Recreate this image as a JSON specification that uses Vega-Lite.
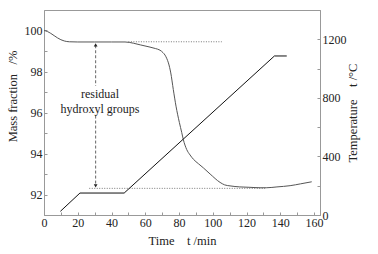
{
  "$schema": "https://vega.github.io/schema/vega-lite/v6.json",
  "width": 276,
  "height": 205,
  "autosize": {"type": "none"},
  "padding": {"left": 44, "top": 10, "right": 58, "bottom": 39},
  "background": "white",
  "config": {
    "view": {"stroke": "#999", "strokeWidth": 1},
    "font": "Liberation Serif",
    "axis": {
      "grid": false,
      "domainColor": "#999",
      "tickColor": "#999",
      "tickSize": -3,
      "labelFont": "Liberation Serif",
      "labelFontSize": 12,
      "labelColor": "#222",
      "labelPadding": 5,
      "labelFlush": false,
      "titleFont": "Liberation Serif",
      "titleFontSize": 12.5,
      "titleFontWeight": "normal",
      "titleColor": "#222"
    }
  },
  "datasets": {
    "mass": [
      {"t": 0, "m": 100.0}, {"t": 2, "m": 99.95}, {"t": 4, "m": 99.86}, {"t": 6, "m": 99.75},
      {"t": 8, "m": 99.64}, {"t": 10, "m": 99.55}, {"t": 12, "m": 99.49}, {"t": 15, "m": 99.45},
      {"t": 20, "m": 99.44}, {"t": 30, "m": 99.44}, {"t": 40, "m": 99.44}, {"t": 48, "m": 99.44},
      {"t": 53, "m": 99.38}, {"t": 57, "m": 99.3}, {"t": 62.8, "m": 99.19}, {"t": 66, "m": 99.12},
      {"t": 68.7, "m": 99.04}, {"t": 70.5, "m": 98.92}, {"t": 71.7, "m": 98.8}, {"t": 72.8, "m": 98.62},
      {"t": 73.7, "m": 98.42}, {"t": 75.1, "m": 97.93}, {"t": 76.6, "m": 97.12}, {"t": 78.2, "m": 96.31},
      {"t": 80.2, "m": 95.51}, {"t": 81.6, "m": 95.02}, {"t": 82.5, "m": 94.69}, {"t": 84.5, "m": 94.2},
      {"t": 86.5, "m": 93.93}, {"t": 88.5, "m": 93.72}, {"t": 91.5, "m": 93.5}, {"t": 94.4, "m": 93.3},
      {"t": 98.4, "m": 93.0}, {"t": 104.3, "m": 92.59}, {"t": 107, "m": 92.47}, {"t": 110.2, "m": 92.42},
      {"t": 116, "m": 92.37}, {"t": 122, "m": 92.35}, {"t": 128, "m": 92.33}, {"t": 132, "m": 92.33},
      {"t": 138, "m": 92.37}, {"t": 145.8, "m": 92.43}, {"t": 152, "m": 92.52}, {"t": 158.6, "m": 92.62}
    ],
    "temp": [
      {"t": 9.7, "T": 25}, {"t": 21.3, "T": 150}, {"t": 47.5, "T": 150},
      {"t": 136.5, "T": 1086}, {"t": 143.8, "T": 1086}
    ],
    "refs": [
      {"t": 50, "t2": 105.3, "m": 99.45},
      {"t": 26.8, "t2": 131, "m": 92.3}
    ],
    "arrow": [
      {"t": 30.6, "m": 99.28, "m2": 97.3},
      {"t": 30.6, "m": 95.85, "m2": 92.45}
    ],
    "heads": [
      {"t": 30.6, "m": 99.3, "dir": "up"},
      {"t": 30.6, "m": 92.42, "dir": "down"}
    ],
    "labels": [
      {"t": 33.2, "m": 96.88, "text": "residual"},
      {"t": 33.2, "m": 96.15, "text": "hydroxyl groups"}
    ]
  },
  "encoding": {
    "x": {
      "field": "t", "type": "quantitative",
      "scale": {"domain": [0, 163.5], "nice": false, "zero": false},
      "axis": {
        "title": "Time\u00a0\u00a0\u00a0\u00a0t /min",
        "format": "d",
        "values": [0, 10, 20, 30, 40, 50, 60, 70, 80, 90, 100, 110, 120, 130, 140, 150, 160],
        "labelExpr": "datum.value % 20 == 0 ? datum.label : ''",
        "labelOverlap": false,
        "titlePadding": 6
      }
    }
  },
  "layer": [
    {
      "encoding": {
        "y": {
          "field": "m", "type": "quantitative",
          "scale": {"domain": [91, 101], "nice": false, "zero": false},
          "axis": {
            "title": "Mass fraction\u00a0\u00a0\u00a0/%",
            "format": "d",
            "values": [92, 93, 94, 95, 96, 97, 98, 99, 100],
            "labelExpr": "datum.value % 2 == 0 ? datum.label : ''",
            "labelOverlap": false,
            "titleY": 86,
            "titlePadding": 5
          }
        }
      },
      "layer": [
        {
          "data": {"name": "refs"},
          "mark": {"type": "rule", "color": "#777", "strokeDash": [1, 1.5], "strokeWidth": 1},
          "encoding": {"x2": {"field": "t2"}}
        },
        {
          "data": {"name": "arrow"},
          "mark": {"type": "rule", "color": "#666", "strokeDash": [3, 2], "strokeWidth": 1},
          "encoding": {"y2": {"field": "m2"}}
        },
        {
          "data": {"name": "heads"},
          "mark": {"type": "point", "filled": true, "color": "#222", "size": 14, "opacity": 1},
          "encoding": {
            "shape": {"field": "dir", "type": "nominal", "scale": {"domain": ["up", "down"], "range": ["triangle-up", "triangle-down"]}, "legend": null}
          }
        },
        {
          "data": {"name": "labels"},
          "mark": {"type": "text", "font": "Liberation Serif", "fontSize": 12, "color": "#222"},
          "encoding": {"text": {"field": "text"}}
        },
        {
          "data": {"name": "mass"},
          "mark": {"type": "line", "color": "#555", "strokeWidth": 1, "interpolate": "monotone"},
          "encoding": {}
        }
      ]
    },
    {
      "data": {"name": "temp"},
      "mark": {"type": "line", "color": "#111", "strokeWidth": 1},
      "encoding": {
        "y": {
          "field": "T", "type": "quantitative",
          "scale": {"domain": [0, 1400], "nice": false},
          "axis": {
            "orient": "right",
            "title": "Temperature\u00a0\u00a0\u00a0\u00a0t /°C",
            "titleAngle": 270,
            "titlePadding": 13,
            "format": "d",
            "labelOverlap": false,
            "values": [0, 200, 400, 600, 800, 1000, 1200, 1400],
            "labelExpr": "datum.value % 400 == 0 ? datum.label : ''"
          }
        }
      }
    }
  ],
  "resolve": {"scale": {"y": "independent"}}
}
